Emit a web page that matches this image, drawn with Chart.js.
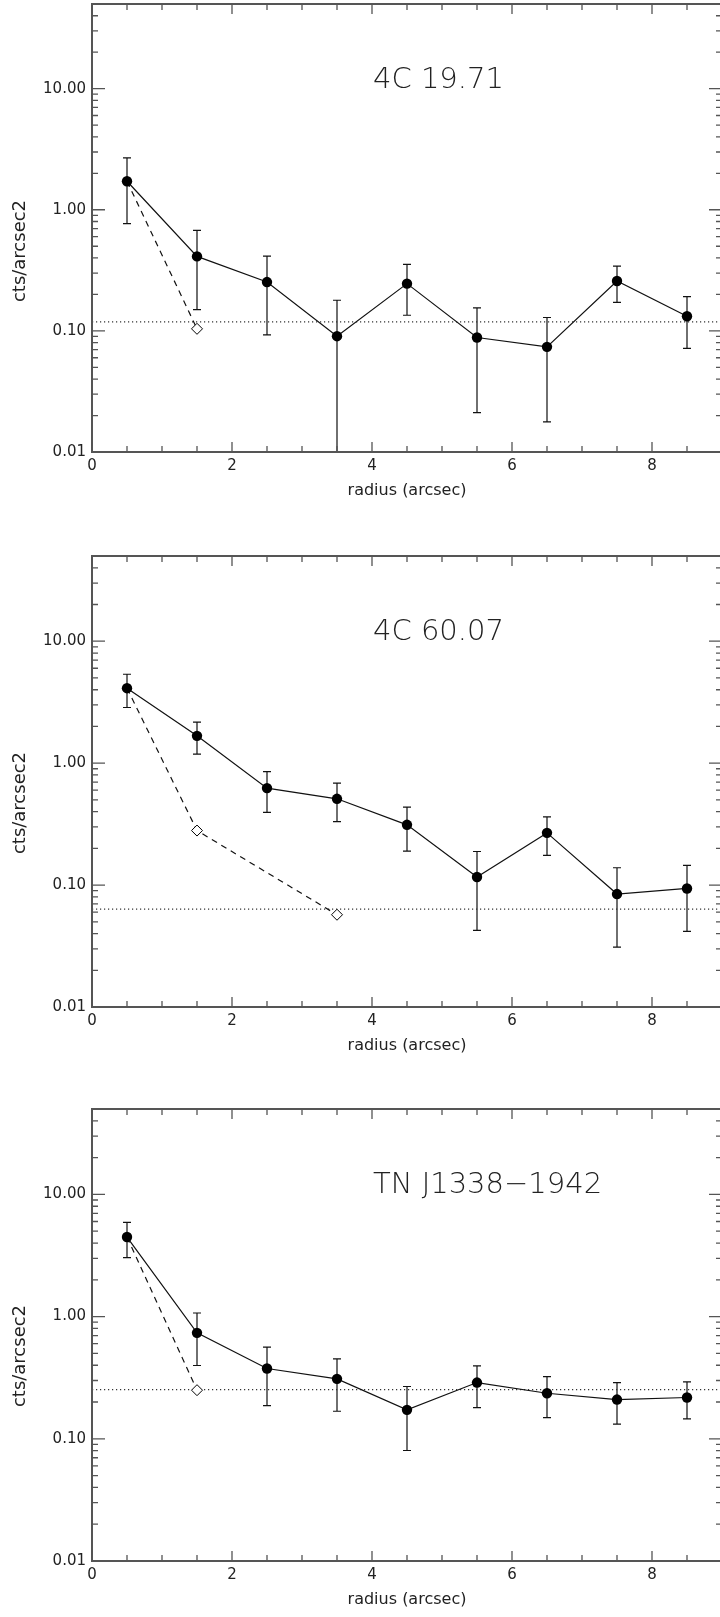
<!DOCTYPE html>
<html>
<head>
<meta charset="utf-8">
<script src="https://cdn.jsdelivr.net/npm/chart.js@4.4.1/dist/chart.umd.min.js"></script>
<style>
  html, body { margin: 0; padding: 0; background: #fff; overflow: hidden; width: 720px; height: 1617px; }
  canvas { position: absolute; left: 0; }
</style>
</head>
<body>
<canvas id="p1" width="740" height="545" style="top:-30px"></canvas>
<canvas id="p2" width="740" height="550" style="top:515px"></canvas>
<canvas id="p3" width="740" height="552" style="top:1065px"></canvas>
<script>
// radial bins (arcsec)
const radius = [0.5, 1.5, 2.5, 3.5, 4.5, 5.5, 6.5, 7.5, 8.5];

// 4C 19.71
const fluxA = [1.72, 0.412, 0.253, 0.0904, 0.2455, 0.0882, 0.0738, 0.258, 0.132];
const errHiA = [2.68, 0.675, 0.415, 0.179, 0.354, 0.155, 0.129, 0.343, 0.192];
const errLoA = [0.767, 0.150, 0.0927, 0.005, 0.1346, 0.0211, 0.0177, 0.172, 0.0716];
const psfRadiusA = [0.5, 1.5];
const psfA = [1.72, 0.104];
const bgA = 0.1186;

// 4C 60.07
const fluxB = [4.12, 1.675, 0.624, 0.510, 0.312, 0.1164, 0.268, 0.0844, 0.0938];
const errHiB = [5.36, 2.17, 0.853, 0.686, 0.436, 0.1886, 0.363, 0.1387, 0.145];
const errLoB = [2.86, 1.185, 0.394, 0.332, 0.190, 0.0425, 0.175, 0.031, 0.0417];
const psfRadiusB = [0.5, 1.5, 3.5];
const psfB = [4.12, 0.280, 0.0571];
const bgB = 0.0636;

// TN J1338-1942
const fluxC = [4.48, 0.736, 0.376, 0.3095, 0.1726, 0.2886, 0.236, 0.2095, 0.2177];
const errHiC = [5.91, 1.07, 0.562, 0.451, 0.268, 0.395, 0.323, 0.288, 0.292];
const errLoC = [3.04, 0.398, 0.187, 0.168, 0.0802, 0.180, 0.149, 0.132, 0.1457];
const psfRadiusC = [0.5, 1.5];
const psfC = [4.48, 0.250];
const bgC = 0.253;

// axes
const xRange = [0, 9];
const yRange = [0.01, 50];
const xTickLabels = [0, 2, 4, 6, 8];
const yTickLabels = [0.01, 0.1, 1, 10];

const FONT = '"DejaVu Sans", "Liberation Sans", sans-serif';
const INK = '#111';
const AXIS = '#555';

function makeProfile(id, name, flux, hi, lo, psfX, psfY, bg, pad) {
    const ctx = document.getElementById(id).getContext('2d');

    // error bars, frame, ticks and labels
    const decor = {
        id: 'decor_' + id,
        beforeDatasetsDraw(chart) {
            const c = chart.ctx, a = chart.chartArea;
            const xs = chart.scales.x, ys = chart.scales.y;
            c.save();
            c.beginPath();
            c.rect(a.left, a.top, a.right - a.left, a.bottom - a.top);
            c.clip();
            c.strokeStyle = INK;
            c.lineWidth = 1.2;
            radius.forEach((r, i) => {
                const px = xs.getPixelForValue(r);
                const yh = ys.getPixelForValue(hi[i]);
                const yl = ys.getPixelForValue(lo[i]);
                c.beginPath();
                c.moveTo(px, yh); c.lineTo(px, yl);
                c.moveTo(px - 4, yh); c.lineTo(px + 4, yh);
                c.moveTo(px - 4, yl); c.lineTo(px + 4, yl);
                c.stroke();
            });
            c.restore();
        },
        afterDraw(chart) {
            const c = chart.ctx, a = chart.chartArea;
            const xs = chart.scales.x, ys = chart.scales.y;
            c.save();
            c.strokeStyle = AXIS;
            c.lineWidth = 2;
            c.strokeRect(a.left, a.top, a.right - a.left, a.bottom - a.top);

            c.lineWidth = 1.3;
            c.beginPath();
            // x ticks every 0.5, major every 2
            for (let v = xRange[0]; v <= xRange[1]; v += 0.5) {
                const px = xs.getPixelForValue(v);
                const len = (v % 2 === 0) ? 10 : 6;
                c.moveTo(px, a.bottom); c.lineTo(px, a.bottom - len);
                c.moveTo(px, a.top); c.lineTo(px, a.top + len);
            }
            // y ticks: decades major, 2..9 minor
            for (let d = -2; d <= 1; d++) {
                for (let k = 1; k <= 9; k++) {
                    const v = k * Math.pow(10, d);
                    if (v > yRange[1]) break;
                    const py = ys.getPixelForValue(v);
                    const len = k === 1 ? 13 : 6;
                    c.moveTo(a.left, py); c.lineTo(a.left + len, py);
                    c.moveTo(a.right, py); c.lineTo(a.right - len, py);
                }
            }
            c.stroke();

            // source name
            c.fillStyle = '#222';
            c.font = '200 29px ' + FONT;
            c.textAlign = 'left';
            c.textBaseline = 'middle';
            c.fillText(name, 373, a.top + 76);

            // y title
            c.translate(20, a.top + 247);
            c.rotate(-Math.PI / 2);
            c.font = '18px ' + FONT;
            c.textAlign = 'center';
            c.fillText('cts/arcsec2', 0, 0);
            c.restore();
        }
    };

    return new Chart(ctx, {
        type: 'scatter',
        data: {
            datasets: [
                {
                    data: radius.map((r, i) => ({ x: r, y: flux[i] })),
                    showLine: true,
                    borderColor: INK,
                    borderWidth: 1.2,
                    pointRadius: 5.2,
                    pointBackgroundColor: '#000',
                    pointBorderColor: '#000',
                    pointBorderWidth: 0
                },
                {
                    data: psfX.map((r, i) => ({ x: r, y: psfY[i] })),
                    showLine: true,
                    borderColor: INK,
                    borderWidth: 1.2,
                    borderDash: [6, 5],
                    pointStyle: 'rectRot',
                    pointRadius: psfX.map((r, i) => i === 0 ? 0 : 5.5),
                    pointBackgroundColor: '#fff',
                    pointBorderColor: '#000',
                    pointBorderWidth: 1
                },
                {
                    data: [{ x: xRange[0], y: bg }, { x: xRange[1], y: bg }],
                    showLine: true,
                    borderColor: '#333',
                    borderWidth: 1.2,
                    borderDash: [1.2, 2.8],
                    pointRadius: 0
                }
            ]
        },
        options: {
            responsive: false,
            animation: false,
            layout: { padding: { top: pad.top, right: 18, bottom: pad.bottom, left: 0 } },
            plugins: { legend: { display: false }, tooltip: { enabled: false } },
            scales: {
                x: {
                    type: 'linear',
                    min: xRange[0],
                    max: xRange[1],
                    grid: { display: false, drawTicks: false },
                    border: { display: false },
                    afterBuildTicks: s => { s.ticks = xTickLabels.map(v => ({ value: v })); },
                    afterFit: s => { s.height = 52; },
                    ticks: { color: '#222', font: { family: FONT, size: 15 }, padding: 5, maxRotation: 0 },
                    title: {
                        display: true,
                        text: 'radius (arcsec)',
                        color: '#222',
                        font: { family: FONT, size: 16 },
                        padding: { top: 0, bottom: 4 }
                    }
                },
                y: {
                    type: 'logarithmic',
                    min: yRange[0],
                    max: yRange[1],
                    grid: { display: false, drawTicks: false },
                    border: { display: false },
                    afterBuildTicks: s => { s.ticks = yTickLabels.map(v => ({ value: v })); },
                    afterFit: s => { s.width = 92; },
                    ticks: {
                        color: '#222',
                        font: { family: FONT, size: 15 },
                        padding: 6,
                        callback: v => Number(v).toFixed(2)
                    }
                }
            }
        },
        plugins: [decor]
    });
}

makeProfile('p1', '4C 19.71', fluxA, errHiA, errLoA, psfRadiusA, psfA, bgA, { top: 34, bottom: 11 });
makeProfile('p2', '4C 60.07', fluxB, errHiB, errLoB, psfRadiusB, psfB, bgB, { top: 41, bottom: 6 });
makeProfile('p3', 'TN J1338\u22121942', fluxC, errHiC, errLoC, psfRadiusC, psfC, bgC, { top: 44, bottom: 4 });
</script>
</body>
</html>
